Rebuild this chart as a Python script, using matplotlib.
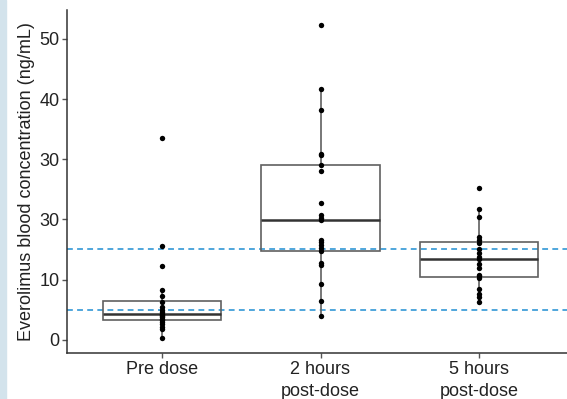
import matplotlib.pyplot as plt
from matplotlib.patches import Rectangle

plt.rcParams['font.family'] = ['Liberation Sans', 'DejaVu Sans']

groups = ['Pre dose', '2 hours\npost-dose', '5 hours\npost-dose']
pre_dose = [33.5, 15.6, 12.2, 8.2, 7.3, 6.2, 5.5, 5.0, 4.6, 4.3, 4.1,
            4.0, 3.8, 3.5, 3.3, 3.0, 2.6, 2.2, 1.8, 0.3]
two_hours = [52.3, 41.6, 38.2, 30.9, 30.7, 29.0, 28.0, 22.8, 20.8, 20.3,
             19.9, 16.6, 16.2, 15.7, 15.3, 14.8, 12.8, 12.4, 9.3, 6.5, 3.9]
five_hours = [25.3, 21.8, 20.4, 17.0, 16.5, 16.1, 15.0, 14.5, 13.7, 13.5,
              12.6, 12.0, 10.7, 10.6, 10.3, 8.5, 7.6, 7.1, 6.3]
ytick_vals = [0, 10, 20, 30, 40, 50]
ytick_text = ['0', '10', '30', '30', '40', '50']  # as printed in the source
target_lines = [5, 15]

data = [pre_dose, two_hours, five_hours]
pos = [1, 2, 3]

fig = plt.figure(figsize=(5.67, 3.99), dpi=100)
fig.patches.append(Rectangle((0, 0), 6 / 567, 1, transform=fig.transFigure,
                             color='#d3e3ec', zorder=0))
ax = fig.add_axes([67 / 567, 46 / 399, 507 / 567, 343 / 399])

for y in target_lines:
    ax.axhline(y, color='#4fa6dc', lw=1.4, ls=(0, (3, 2.2)), zorder=1)

ax.boxplot(data, positions=pos, widths=0.75, showfliers=False, showcaps=False,
           patch_artist=True,
           boxprops=dict(facecolor='none', edgecolor='#606060', lw=1.2),
           whiskerprops=dict(color='#606060', lw=1.2),
           medianprops=dict(color='#333333', lw=1.8), zorder=2)

for p, vals in zip(pos, data):
    ax.scatter([p] * len(vals), vals, s=15, color='black', zorder=3, lw=0)

ax.set_xlim(0.4, 3.6)
ax.set_ylim(-2.2, 54.8)
ax.set_xticks(pos)
ax.set_xticklabels(groups, fontsize=13, color='#222222', linespacing=1.45)
ax.set_yticks(ytick_vals)
ax.set_yticklabels(ytick_text, fontsize=13, color='#222222')
ax.set_ylabel('Everolimus blood concentration (ng/mL)', fontsize=13,
              color='#222222', labelpad=3)

for s in ['top', 'right']:
    ax.spines[s].set_visible(False)
for s in ['left', 'bottom']:
    ax.spines[s].set_color('#333333')
    ax.spines[s].set_linewidth(1.1)
ax.tick_params(length=3.5, width=1, color='#555555', pad=2)

fig.savefig('out.png', dpi=100)
